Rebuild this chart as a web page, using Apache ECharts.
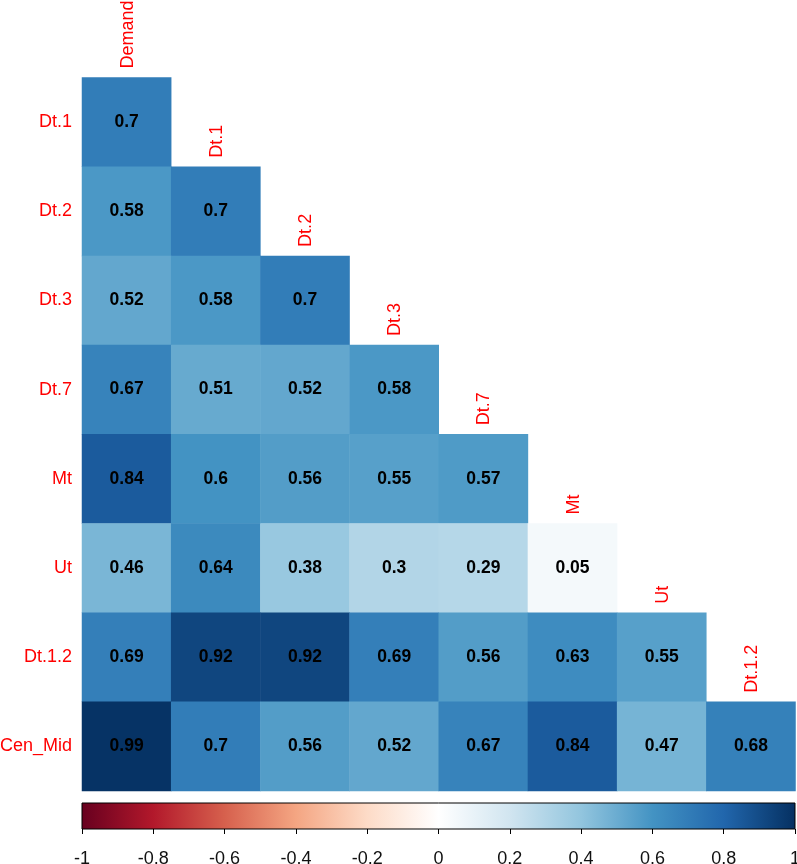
<!DOCTYPE html>
<html>
<head>
<meta charset="utf-8">
<script src="https://cdn.jsdelivr.net/npm/echarts@6/dist/echarts.min.js"></script>
<style>html,body{margin:0;padding:0;background:#fff}#c{width:797px;height:864px}</style>
</head>
<body>
<div id="c"></div>
<script>
const columns = ['Demand', 'Dt.1', 'Dt.2', 'Dt.3', 'Dt.7', 'Mt', 'Ut', 'Dt.1.2'];
const rows = ['Dt.1', 'Dt.2', 'Dt.3', 'Dt.7', 'Mt', 'Ut', 'Dt.1.2', 'Cen_Mid'];
const rowDt1 = [0.7];
const rowDt2 = [0.58, 0.7];
const rowDt3 = [0.52, 0.58, 0.7];
const rowDt7 = [0.67, 0.51, 0.52, 0.58];
const rowMt = [0.84, 0.6, 0.56, 0.55, 0.57];
const rowUt = [0.46, 0.64, 0.38, 0.3, 0.29, 0.05];
const rowDt12 = [0.69, 0.92, 0.92, 0.69, 0.56, 0.63, 0.55];
const rowCenMid = [0.99, 0.7, 0.56, 0.52, 0.67, 0.84, 0.47, 0.68];
const rdbu = ['#67001F', '#B2182B', '#D6604D', '#F4A582', '#FDDBC7', '#FFFFFF',
              '#D1E5F0', '#92C5DE', '#4393C3', '#2166AC', '#053061'];
const barMin = -1, barMax = 1, barStep = 0.2;

const matrix = [rowDt1, rowDt2, rowDt3, rowDt7, rowMt, rowUt, rowDt12, rowCenMid];
const cells = [];
matrix.forEach((r, i) => r.forEach((v, j) => cells.push([j, i, v])));
const diag = columns.map((c, j) => [j, j]);

const FONT = '"Liberation Sans", Arial, sans-serif';
const chart = echarts.init(document.getElementById('c'), null, {renderer: 'canvas'});
chart.setOption({
  animation: false,
  backgroundColor: '#fff',
  grid: [
    {left: 82, top: 77.5, width: 713.5, height: 713.5, containLabel: false, outerBoundsMode: 'none'},
    {left: 82, top: 803, width: 713, height: 26, show: true, containLabel: false, outerBoundsMode: 'none',
     borderColor: '#000', borderWidth: 1,
     backgroundColor: {type: 'linear', x: 0, y: 0, x2: 1, y2: 0,
       colorStops: rdbu.map((c, k) => ({offset: k / (rdbu.length - 1), color: c}))}}
  ],
  xAxis: [
    {type: 'category', gridIndex: 0, data: columns, show: false},
    {type: 'value', gridIndex: 1, min: barMin, max: barMax, interval: barStep,
     axisLine: {show: false}, splitLine: {show: false},
     axisTick: {show: true, length: 5, lineStyle: {color: '#000'}},
     axisLabel: {color: '#111', fontSize: 18, fontFamily: FONT, margin: 21,
       showMinLabel: true, showMaxLabel: true,
       formatter: v => String(+v.toFixed(1))}}
  ],
  yAxis: [
    {type: 'category', gridIndex: 0, data: rows, inverse: true,
     axisLine: {show: false}, axisTick: {show: false}, splitLine: {show: false},
     axisLabel: {color: '#FF0000', fontSize: 18, fontFamily: FONT, margin: 10}},
    {type: 'value', gridIndex: 1, show: false, min: 0, max: 1}
  ],
  visualMap: {type: 'continuous', show: false, min: barMin, max: barMax, seriesIndex: 0,
    inRange: {color: rdbu}},
  series: [
    {type: 'heatmap', xAxisIndex: 0, yAxisIndex: 0, data: cells,
     itemStyle: {borderWidth: 0},
     label: {show: true, formatter: p => String(p.value[2]), color: '#000',
       fontWeight: 'bold', fontSize: 17.5, fontFamily: FONT}},
    {type: 'custom', xAxisIndex: 0, yAxisIndex: 0, data: diag, clip: false,
     renderItem: (params, api) => {
       const j = api.value(0);
       const p = api.coord([j, api.value(1)]);
       const s = api.size([1, 1]);
       return {type: 'text', x: p[0] + 1, y: p[1] - s[1] / 2 - 9, rotation: Math.PI / 2,
         style: {text: columns[j], align: 'left', verticalAlign: 'middle',
           fill: '#FF0000', fontSize: 18, fontFamily: FONT}};
     }}
  ]
});
</script>
</body>
</html>
